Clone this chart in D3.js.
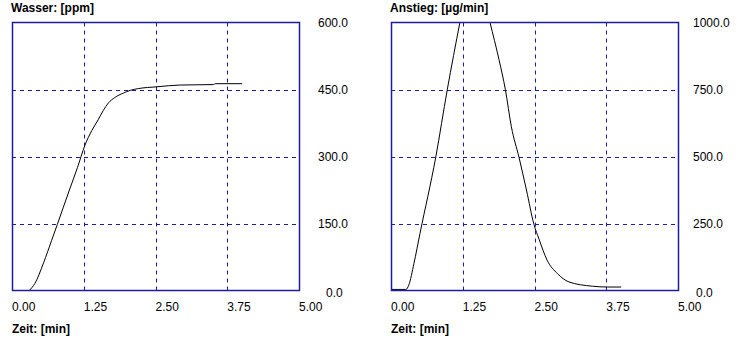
<!DOCTYPE html>
<html><head><meta charset="utf-8">
<script src="https://cdn.jsdelivr.net/npm/d3@7"></script>
<style>body{margin:0;background:#fff}svg{display:block}text{font-family:"Liberation Sans",Arial,sans-serif;font-size:12px;fill:#000}</style>
</head><body>
<script>
const xTicks = [0, 1.25, 2.5, 3.75, 5];
const xTickLabels = ["0.00", "1.25", "2.50", "3.75", "5.00"];
const wasserTicks = [0, 150, 300, 450, 600];
const wasserTickLabels = ["0.0", "150.0", "300.0", "450.0", "600.0"];
const anstiegTicks = [0, 250, 500, 750, 1000];
const anstiegTickLabels = ["0.0", "250.0", "500.0", "750.0", "1000.0"];

const wasserTime = [0.30, 0.40, 0.55, 0.69, 0.79, 1.00, 1.14, 1.27, 1.39, 1.50, 1.59, 1.68, 1.79, 1.94, 2.06, 2.20, 2.52, 2.93, 3.51, 3.54, 4.01];
const wasserValue = [0, 16, 62, 112, 148, 225, 275, 325, 358, 382, 403, 420, 432, 442, 448, 452, 456, 460, 461, 463, 463];

const anstiegTime = [0.00, 0.26, 0.31, 0.40, 0.505, 0.78, 0.98, 1.20, 1.32, 1.43, 1.55, 1.725, 1.882, 1.993, 2.097, 2.23, 2.36, 2.49, 2.58, 2.72, 2.90, 3.10, 3.51, 3.77, 4.01];
const anstiegValue = [4, 4, 20, 101, 213, 498, 749, 1000, 1130, 1250, 1150, 1000, 861, 749, 611, 497, 375, 247, 191, 113, 63, 32, 16, 13, 13];

const panels = [
  {title: "Wasser:  [ppm]", left: 12, labelX: 318, zeroX: 326, ticks: wasserTicks, labels: wasserTickLabels, max: 600, t: wasserTime, v: wasserValue},
  {title: "Anstieg:  [µg/min]", left: 391, labelX: 693, zeroX: 696, ticks: anstiegTicks, labels: anstiegTickLabels, max: 1000, t: anstiegTime, v: anstiegValue}
];

const svg = d3.select("body").append("svg").attr("width", 752).attr("height", 345);
const navy = "#1c1ca0";
const plotTop = 22.5, plotBottom = 290.5, plotWidth = 287;

panels.forEach((p, i) => {
  const g = svg.append("g");
  const x = d3.scaleLinear().domain([0, 5]).range([p.left, p.left + plotWidth]);
  const y = d3.scaleLinear().domain([0, p.max]).range([plotBottom, plotTop]);
  const cid = "clip" + i;
  svg.append("clipPath").attr("id", cid).append("rect")
    .attr("x", x(0)).attr("y", y(p.max)).attr("width", plotWidth).attr("height", plotBottom - plotTop);
  g.selectAll(".vg").data(xTicks.slice(1, -1)).join("line")
    .attr("x1", d => Math.round(x(d)) + 0.5).attr("x2", d => Math.round(x(d)) + 0.5)
    .attr("y1", plotTop).attr("y2", plotBottom)
    .attr("stroke", navy).attr("stroke-width", 1).attr("stroke-dasharray", "4,4");
  g.selectAll(".hg").data(p.ticks.slice(1, -1)).join("line")
    .attr("x1", x(0)).attr("x2", x(5))
    .attr("y1", d => Math.round(y(d)) + 0.5).attr("y2", d => Math.round(y(d)) + 0.5)
    .attr("stroke", navy).attr("stroke-width", 1).attr("stroke-dasharray", "4,4");
  const pts = p.t.map((t, k) => [t, p.v[k]]);
  g.append("path").datum(pts)
    .attr("clip-path", `url(#${cid})`)
    .attr("fill", "none").attr("stroke", "#000").attr("stroke-width", 1)
    .attr("d", d3.line().x(d => x(d[0])).y(d => y(d[1])).curve(d3.curveMonotoneX));
  g.append("rect").attr("x", x(0) + 0.5).attr("y", plotTop).attr("width", plotWidth).attr("height", plotBottom - plotTop)
    .attr("fill", "none").attr("stroke", navy).attr("stroke-width", 1.5);
  g.selectAll(".xl").data(xTicks).join("text")
    .attr("x", d => x(d)).attr("y", 311).attr("text-anchor", "start")
    .text((d, k) => xTickLabels[k]);
  g.selectAll(".yl").data(p.ticks).join("text")
    .attr("x", d => d === 0 ? p.zeroX : p.labelX)
    .attr("y", d => d === 0 ? y(d) + 6 : y(d) + 4.5)
    .text((d, k) => p.labels[k]);
  g.append("text").attr("x", p.left - 1).attr("y", 12).attr("font-weight", "bold").text(p.title);
  g.append("text").attr("x", p.left).attr("y", 333).attr("font-weight", "bold").text("Zeit:  [min]");
});
</script>
</body></html>
